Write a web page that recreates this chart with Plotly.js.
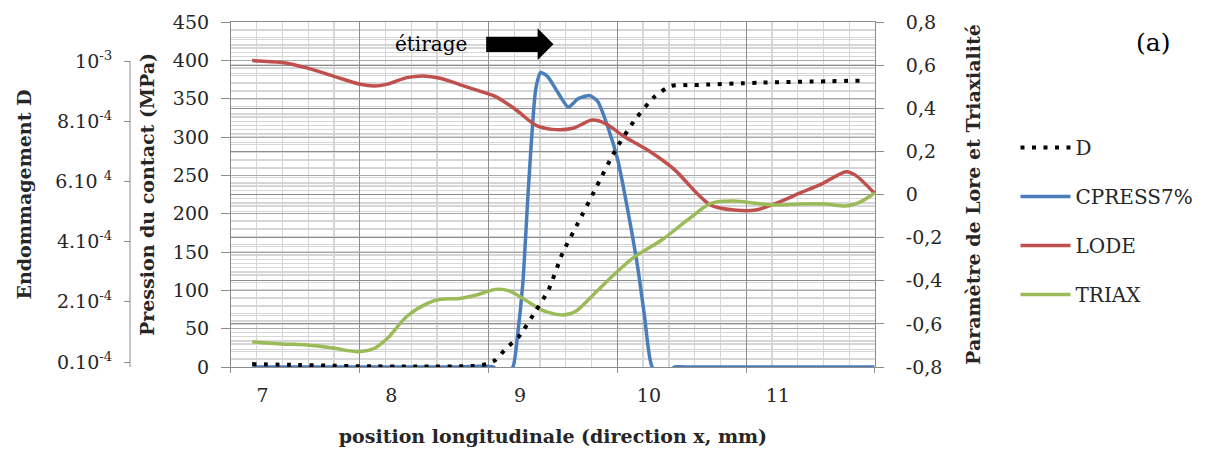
<!DOCTYPE html>
<html>
<head>
<meta charset="utf-8">
<script src="https://cdn.plot.ly/plotly-3.0.1.min.js"></script>
<style>html,body{margin:0;padding:0;background:#fff;}#chart{width:1211px;height:457px;}</style>
</head>
<body>
<div id="chart"></div>
<script>
// ---------------- data ----------------
const lodeX = [6.92, 7.15, 7.35, 7.56, 7.76, 7.87, 7.97, 8.12, 8.25, 8.38, 8.58, 8.74, 8.81, 8.97, 9.12, 9.25, 9.41, 9.56, 9.66, 9.81, 9.99, 10.20, 10.37, 10.48, 10.66, 10.83, 10.99, 11.17, 11.35, 11.53, 11.60, 11.75];
const lodeY = [0.621, 0.612, 0.586, 0.547, 0.511, 0.503, 0.512, 0.542, 0.550, 0.539, 0.500, 0.469, 0.454, 0.392, 0.322, 0.302, 0.307, 0.345, 0.330, 0.268, 0.206, 0.114, 0.007, -0.049, -0.072, -0.072, -0.040, 0.006, 0.052, 0.106, 0.091, 0.006];

const triaxX = [6.92, 7.15, 7.35, 7.56, 7.74, 7.87, 7.97, 8.12, 8.28, 8.38, 8.53, 8.66, 8.81, 8.91, 9.04, 9.17, 9.33, 9.43, 9.58, 9.74, 9.89, 10.10, 10.30, 10.48, 10.66, 10.83, 10.99, 11.17, 11.37, 11.53, 11.63, 11.75];
const triaxY = [-0.683, -0.693, -0.698, -0.713, -0.729, -0.713, -0.667, -0.566, -0.505, -0.486, -0.482, -0.466, -0.440, -0.446, -0.489, -0.536, -0.559, -0.543, -0.458, -0.365, -0.288, -0.211, -0.118, -0.041, -0.030, -0.041, -0.049, -0.044, -0.044, -0.053, -0.038, 0.006];

const cpressX = [6.92, 7.48, 7.98, 8.48, 8.79, 8.87, 8.944, 8.982, 9.021, 9.067, 9.121, 9.159, 9.213, 9.297, 9.374, 9.451, 9.543, 9.604, 9.681, 9.758, 9.835, 9.912, 9.966, 10.025, 10.12, 10.20, 10.28, 10.78, 11.28, 11.75];
const cpressY = [0, 0, 0, 0, 0, -12, 0, 44, 109, 240, 362, 384, 379, 357, 339, 350, 354, 346, 313, 270, 205, 131, 66, 0, -12, 0, 0, 0, 0, 0];

const dX = [6.92, 7.28, 7.76, 8.20, 8.64, 8.74, 8.81, 8.89, 8.99, 9.12, 9.22, 9.33, 9.45, 9.58, 9.74, 9.89, 10.04, 10.17, 10.35, 10.86, 11.67];
const dY = [-0.7e-5, -1.0e-5, -1.4e-5, -1.5e-5, -1.3e-5, -0.7e-5, 0.7e-5, 4.5e-5, 8.4e-5, 1.69e-4, 2.39e-4, 3.62e-4, 4.62e-4, 5.71e-4, 7.04e-4, 8.04e-4, 8.80e-4, 9.17e-4, 9.20e-4, 9.28e-4, 9.35e-4];

// tick labels
const xTickVals = [7, 8, 9, 10, 11];
const xTickText = ['7', '8', '9', '10', '11'];
const pressTickVals = [0, 50, 100, 150, 200, 250, 300, 350, 400, 450];
const paramTickVals = [-0.8, -0.6, -0.4, -0.2, 0, 0.2, 0.4, 0.6, 0.8];
const paramTickText = ['-0,8', '-0,6', '-0,4', '-0,2', '0', '0,2', '0,4', '0,6', '0,8'];
const dTickVals = [0, 2e-4, 4e-4, 6e-4, 8e-4, 1e-3];
const dTickText = ['0.10<sup>-4</sup>', '2.10<sup>-4</sup>', '4.10<sup>-4</sup>', '6.10 <sup>4</sup>', '8.10<sup>-4</sup>', '10<sup>-3</sup>'];

// ---------------- layout helpers (pixel -> paper) ----------------
const L = 130, R = 883, T = 22, B = 367;
const fx = p => (p - L) / (R - L);
const fy = p => (B - p) / (B - T);

const FONT = 'DejaVu Serif';
const TXT = '#262626';
const GRID_DARK = '#8c8c8c';
const GRID_MID = '#a8a8a8';
const GRID_LIGHT = '#d6d6d6';
const XR = [6.755, 11.755];

const traces = [
  {x: lodeX, y: lodeY, yaxis: 'y2', name: 'LODE', mode: 'lines', legendrank: 3, legendgroup: 'c',
   line: {color: '#c0504d', width: 3.5, shape: 'spline', smoothing: 0.8}},
  {x: triaxX, y: triaxY, yaxis: 'y2', name: 'TRIAX', mode: 'lines', legendrank: 4, legendgroup: 'd',
   line: {color: '#9bbb59', width: 3.5, shape: 'spline', smoothing: 0.8}},
  {x: cpressX, y: cpressY, yaxis: 'y', name: 'CPRESS7%', mode: 'lines', legendrank: 2, legendgroup: 'b',
   line: {color: '#4a7ebb', width: 3.5, shape: 'spline', smoothing: 0.6}},
  {x: dX, y: dY, yaxis: 'y3', name: 'D', mode: 'lines', legendrank: 1, legendgroup: 'a',
   line: {color: '#000000', width: 4, dash: '4px,7.5px', shape: 'spline', smoothing: 0.6}},
  // carrier for the labelled x axis (no marks)
  {x: [], y: [], xaxis: 'x2', yaxis: 'y', mode: 'lines', showlegend: false, hoverinfo: 'skip'}
];

const layout = {
  width: 1211, height: 457,
  paper_bgcolor: '#ffffff', plot_bgcolor: '#ffffff',
  margin: {l: L, r: 1211 - R, t: T, b: 457 - B, pad: 0},
  font: {family: FONT, size: 19, color: TXT},
  showlegend: true,
  legend: {x: fx(1025), y: fy(128), xanchor: 'left', yanchor: 'top',
           font: {family: FONT, size: 20, color: TXT}, bgcolor: 'rgba(0,0,0,0)',
           tracegroupgap: 20, itemwidth: 50, traceorder: 'grouped'},
  xaxis: {domain: [fx(232), 1], range: XR, tick0: XR[0], dtick: 1,
          showticklabels: false, ticks: 'outside', ticklen: 5, tickcolor: GRID_DARK,
          showgrid: true, gridcolor: GRID_DARK, gridwidth: 1,
          minor: {tick0: XR[0], dtick: 0.2, showgrid: true, gridcolor: GRID_LIGHT, gridwidth: 1.3},
          showline: true, linecolor: GRID_DARK, mirror: true, zeroline: false, fixedrange: true},
  xaxis2: {overlaying: 'x', anchor: 'y', domain: [fx(232), 1], range: XR,
           tickvals: xTickVals, ticktext: xTickText, showgrid: false, ticks: '', showline: false,
           zeroline: false, side: 'bottom', tickfont: {size: 19, color: TXT}, ticklabelstandoff: 15,
           title: {text: 'position longitudinale (direction x, mm)', font: {size: 19, weight: 'bold', color: TXT}, standoff: 24}},
  yaxis: {range: [0, 450], tickvals: pressTickVals, anchor: 'x', side: 'left',
          ticks: 'outside', ticklen: 9, tickcolor: GRID_DARK,
          showgrid: true, gridcolor: GRID_MID, gridwidth: 1,
          minor: {dtick: 10, showgrid: true, gridcolor: GRID_LIGHT, gridwidth: 1.3},
          showline: true, linecolor: GRID_DARK, zeroline: false, tickfont: {size: 19, color: TXT}, ticklabelstandoff: 8,
          title: {text: 'Pression du contact (MPa)', font: {size: 19, weight: 'bold', color: TXT}, standoff: 13}},
  yaxis2: {range: [-0.8, 0.8], tickvals: paramTickVals, ticktext: paramTickText, overlaying: 'y', anchor: 'x', side: 'right',
           ticks: 'outside', ticklen: 8, tickcolor: GRID_DARK,
           showgrid: true, gridcolor: GRID_DARK, gridwidth: 1,
           minor: {dtick: 0.04, showgrid: true, gridcolor: GRID_LIGHT, gridwidth: 1.3},
           showline: true, linecolor: GRID_DARK, zeroline: false, tickfont: {size: 19, color: TXT}, ticklabelstandoff: 18,
           title: {text: 'Paramètre de Lore et Triaxialité', font: {size: 19, weight: 'bold', color: TXT}, standoff: 25}},
  yaxis3: {range: [-1.66e-5, 1.1296e-3], tickvals: dTickVals, ticktext: dTickText, overlaying: 'y', anchor: 'free', position: 0, side: 'left',
           ticks: 'outside', ticklen: 6, tickcolor: GRID_DARK, showgrid: false, showline: false, zeroline: false,
           tickfont: {size: 19, color: TXT}, ticklabelstandoff: 8,
           title: {text: 'Endommagement D', font: {size: 19, weight: 'bold', color: TXT}, standoff: 17}},
  shapes: [
    {type: 'rect', xref: 'paper', yref: 'paper', x0: fx(387), x1: fx(570), y0: fy(60), y1: fy(22.5),
     fillcolor: '#ffffff', line: {width: 0}, layer: 'between'},
    {type: 'path', xref: 'paper', yref: 'paper', fillcolor: '#000000', line: {width: 0}, layer: 'above',
     path: `M${fx(490)},${fy(36.7)} L${fx(542)},${fy(36.7)} L${fx(542)},${fy(28.3)} L${fx(558)},${fy(44.3)} L${fx(542)},${fy(60)} L${fx(542)},${fy(52)} L${fx(490)},${fy(52)} Z`},
    {type: 'line', xref: 'paper', yref: 'y3', x0: 0, x1: 0, y0: -1.66e-5, y1: 1e-3, line: {color: GRID_DARK, width: 1}}
  ],
  annotations: [
    {text: 'étirage', xref: 'paper', yref: 'paper', x: fx(434), y: fy(44), showarrow: false,
     font: {family: FONT, size: 20, color: '#000'}, xanchor: 'center', yanchor: 'middle'},
    {text: '(a)', xref: 'paper', yref: 'paper', x: fx(1164), y: fy(42), showarrow: false,
     font: {family: FONT, size: 25, color: '#000'}, xanchor: 'center', yanchor: 'middle'}
  ]
};

Plotly.newPlot('chart', traces, layout, {displayModeBar: false, staticPlot: true});
</script>
</body>
</html>
